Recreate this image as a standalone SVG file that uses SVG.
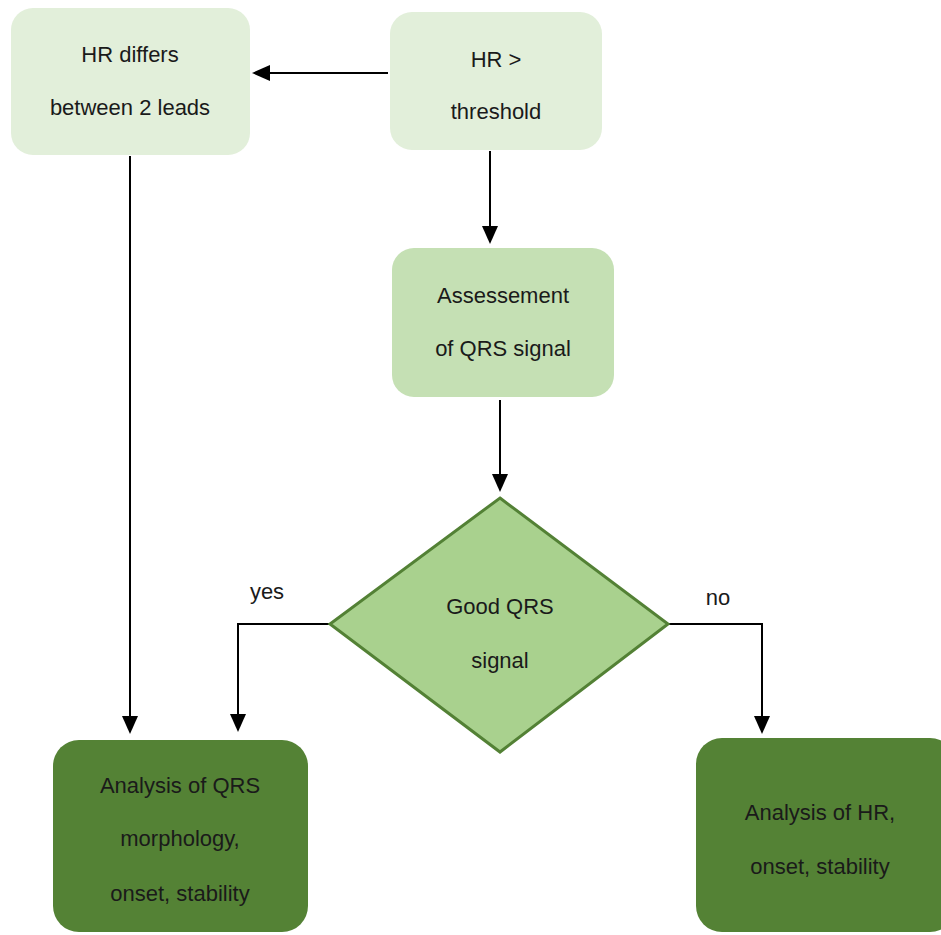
<svg xmlns="http://www.w3.org/2000/svg" width="941" height="935" viewBox="0 0 941 935">
<style>
text{font-family:"Liberation Sans",Arial,sans-serif;font-size:22px;fill:#1a1a1a;text-anchor:middle}
.c{stroke:#000;stroke-width:2;fill:none}
</style>
<defs>
<marker id="ah" markerWidth="18" markerHeight="16" refX="16" refY="8" orient="auto" markerUnits="userSpaceOnUse">
<path d="M0,0 L18,8 L0,16 Z" fill="#000"/>
</marker>
</defs>
<rect width="941" height="935" fill="#fff"/>
<g id="connectors">
<line class="c" x1="388" y1="73" x2="254" y2="73" marker-end="url(#ah)"/>
<line class="c" x1="490" y1="151" x2="490" y2="242" marker-end="url(#ah)"/>
<line class="c" x1="500" y1="400" x2="500" y2="490" marker-end="url(#ah)"/>
<line class="c" x1="130" y1="156" x2="130" y2="732" marker-end="url(#ah)"/>
<polyline class="c" points="330,624 238,624 238,730" marker-end="url(#ah)"/>
<polyline class="c" points="668,624 762,624 762,732" marker-end="url(#ah)"/>
<text x="267" y="599">yes</text>
<text x="718" y="605">no</text>
</g>
<g id="hr-differs">
<rect x="11" y="8" width="239" height="147" rx="22" fill="#e2efda"/>
<text x="130" y="62">HR differs</text>
<text x="130" y="115">between 2 leads</text>
</g>
<g id="hr-threshold">
<rect x="390" y="12" width="212" height="138" rx="22" fill="#e2efda"/>
<text x="496" y="67">HR &gt;</text>
<text x="496" y="119">threshold</text>
</g>
<g id="assessment">
<rect x="392" y="248" width="222" height="149" rx="22" fill="#c5e0b4"/>
<text x="503" y="303">Assessement</text>
<text x="503" y="356">of QRS signal</text>
</g>
<g id="good-qrs">
<polygon points="500,498 668,624 500,752 330,624" fill="#a9d18e" stroke="#538135" stroke-width="3"/>
<text x="500" y="614">Good QRS</text>
<text x="500" y="668">signal</text>
</g>
<g id="analysis-qrs">
<rect x="53" y="740" width="255" height="192" rx="26" fill="#548235"/>
<text x="180" y="793">Analysis of QRS</text>
<text x="180" y="846">morphology,</text>
<text x="180" y="901">onset, stability</text>
</g>
<g id="analysis-hr">
<rect x="696" y="738" width="260" height="194" rx="26" fill="#548235"/>
<text x="820" y="820">Analysis of HR,</text>
<text x="820" y="874">onset, stability</text>
</g>
</svg>
